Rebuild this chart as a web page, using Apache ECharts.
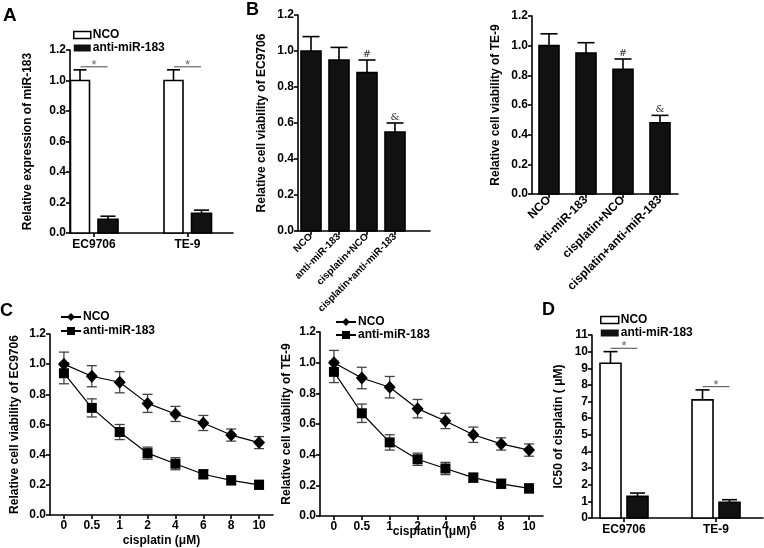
<!DOCTYPE html>
<html><head><meta charset="utf-8">
<script src="https://cdn.jsdelivr.net/npm/echarts@6/dist/echarts.min.js"></script>
<style>html,body{margin:0;padding:0;background:#fff}#c{width:764px;height:548px}</style>
</head><body><div id="c"></div>
<script>
// ---------- Panel A ----------
const groupsA = ['EC9706', 'TE-9'];
const ncoA = [1.00, 1.00];
const ncoAErr = [0.07, 0.07];
const antiA = [0.09, 0.13];
const antiAErr = [0.02, 0.02];
const sigA = [1.09, 1.09];
// ---------- Panel B ----------
const groupsB = ['NCO', 'anti-miR-183', 'cisplatin+NCO', 'cisplatin+anti-miR-183'];
const viabEC = [1.00, 0.95, 0.88, 0.55];
const viabECErr = [0.08, 0.07, 0.07, 0.05];
const viabTE = [1.00, 0.95, 0.84, 0.48];
const viabTEErr = [0.08, 0.07, 0.07, 0.05];
const marksB = ['', '', '#', '&'];
// ---------- Panel C ----------
const doses = ['0', '0.5', '1', '2', '4', '6', '8', '10'];
const ncoCEC = [1.00, 0.92, 0.88, 0.74, 0.67, 0.61, 0.53, 0.48];
const ncoCECErr = [0.08, 0.07, 0.07, 0.06, 0.05, 0.05, 0.04, 0.04];
const antiCEC = [0.94, 0.71, 0.55, 0.41, 0.34, 0.27, 0.23, 0.20];
const antiCECErr = [0.07, 0.06, 0.05, 0.04, 0.04, 0.03, 0.03, 0.03];
const ncoCTE = [1.00, 0.90, 0.84, 0.70, 0.62, 0.53, 0.47, 0.43];
const ncoCTEErr = [0.08, 0.07, 0.07, 0.06, 0.05, 0.05, 0.04, 0.04];
const antiCTE = [0.94, 0.67, 0.48, 0.37, 0.31, 0.25, 0.21, 0.18];
const antiCTEErr = [0.07, 0.06, 0.05, 0.04, 0.04, 0.03, 0.03, 0.03];
// ---------- Panel D ----------
const groupsD = ['EC9706', 'TE-9'];
const ncoD = [9.3, 7.1];
const ncoDErr = [0.7, 0.6];
const antiD = [1.3, 0.95];
const antiDErr = [0.2, 0.15];
const sigD = [10.2, 7.9];

const FONT = '"Liberation Sans", Arial, sans-serif';
const chart = echarts.init(document.getElementById('c'), null, {renderer: 'canvas'});

// geometry (pixels)
const G = {
  A:  {left: 70,  top: 50,  width: 163, height: 183, first: 24,  step: 93.5},
  B1: {left: 298, top: 15,  width: 132, height: 216, first: 13,  step: 28},
  B2: {left: 532, top: 16,  width: 146, height: 178, first: 17,  step: 37},
  C1: {left: 50,  top: 334, width: 223, height: 183},
  C2: {left: 320, top: 332, width: 223, height: 184},
  D:  {left: 592, top: 335, width: 171, height: 183, first: 32,  step: 92}
};
const keys = ['A', 'B1', 'B2', 'C1', 'C2', 'D'];
const grid = keys.map(k => ({left: G[k].left, top: G[k].top, width: G[k].width, height: G[k].height}));

const lineStyleAxis = {color: '#000', width: 1.6};
function yAx(gi, min, max, interval, name, gap, dec) {
  return {
    type: 'value', gridIndex: gi, min, max, interval,
    name, nameLocation: 'middle', nameGap: gap, nameRotate: 90, nameMoveOverlap: false,
    nameTextStyle: {fontFamily: FONT, fontWeight: 'bold', fontSize: 12, color: '#000'},
    axisLine: {show: true, onZero: false, lineStyle: lineStyleAxis},
    axisTick: {show: true, length: 4, lineStyle: lineStyleAxis},
    axisLabel: {fontFamily: FONT, fontWeight: 'bold', fontSize: 12, color: '#000', margin: 4,
      formatter: v => dec ? v.toFixed(1) : String(v)},
    splitLine: {show: false}
  };
}
function xValAx(gi, k, cats, rotate, fs) {
  const g = G[k];
  const min = -g.first / g.step, max = min + g.width / g.step;
  const vals = cats.map((c, i) => i);
  return {
    type: 'value', gridIndex: gi, min, max,
    axisLine: {show: true, onZero: false, lineStyle: lineStyleAxis},
    axisTick: {show: true, length: 4, customValues: vals, lineStyle: lineStyleAxis},
    axisLabel: {customValues: vals, fontFamily: FONT, fontWeight: 'bold', fontSize: fs, color: '#000',
      rotate: rotate, margin: rotate ? 4 : 6, formatter: v => cats[Math.round(v)]},
    splitLine: {show: false}
  };
}
function xCatAx(gi, gap) {
  return {
    type: 'category', gridIndex: gi, data: doses, boundaryGap: true,
    name: 'cisplatin (\u03bcM)', nameLocation: 'middle', nameGap: gap, nameMoveOverlap: false,
    nameTextStyle: {fontFamily: FONT, fontWeight: 'bold', fontSize: 12, color: '#000'},
    axisLine: {show: true, lineStyle: lineStyleAxis},
    axisTick: {show: true, alignWithLabel: true, length: 4, lineStyle: lineStyleAxis},
    axisLabel: {fontFamily: FONT, fontWeight: 'bold', fontSize: 12, color: '#000', margin: 5, interval: 0},
    splitLine: {show: false}
  };
}

const xAxis = [
  xValAx(0, 'A', groupsA, 0, 12),
  xValAx(1, 'B1', groupsB, 45, 10),
  xValAx(2, 'B2', groupsB, 45, 12),
  xCatAx(3, 20),
  xCatAx(4, 10),
  xValAx(5, 'D', groupsD, 0, 12)
];
const yAxis = [
  yAx(0, 0, 1.2, 0.2, 'Relative expression of miR-183', 36, true),
  yAx(1, 0, 1.2, 0.2, 'Relative cell viability of EC9706', 30, true),
  yAx(2, 0, 1.2, 0.2, 'Relative cell viability of TE-9', 30, true),
  yAx(3, 0, 1.2, 0.2, 'Relative cell viability of EC9706', 29, true),
  yAx(4, 0, 1.2, 0.2, 'Relative cell viability of TE-9', 27, true),
  yAx(5, 0, 11, 1, 'IC50 of cisplatin ( \u03bcM)', 27, false)
];

function barSeries(name, gi, vals, errs, offset, width, fill, cap) {
  return {
    type: 'custom', name, xAxisIndex: gi, yAxisIndex: gi, z: 3,
    itemStyle: {color: fill, borderColor: '#000'},
    data: vals.map((v, i) => [i, v, errs[i]]),
    encode: {x: 0, y: 1},
    renderItem: (params, api) => {
      const i = api.value(0), v = api.value(1), e = api.value(2);
      const base = api.coord([i, 0]), top = api.coord([i, v]), et = api.coord([i, v + e]);
      const cx = base[0] + offset;
      return {type: 'group', children: [
        {type: 'line', shape: {x1: cx, y1: top[1], x2: cx, y2: et[1]}, style: {stroke: '#000', lineWidth: 1.6}},
        {type: 'line', shape: {x1: cx - cap / 2, y1: et[1], x2: cx + cap / 2, y2: et[1]}, style: {stroke: '#000', lineWidth: 1.6}},
        {type: 'rect', shape: {x: cx - width / 2, y: top[1], width: width, height: base[1] - top[1]},
          style: {fill: fill, stroke: '#000', lineWidth: 1.6}}
      ]};
    }
  };
}
function sigSeries(gi, heights, halfLen) {
  return {
    type: 'custom', xAxisIndex: gi, yAxisIndex: gi, z: 4, silent: true,
    data: heights.map((h, i) => [i, h]),
    encode: {x: 0, y: 1},
    renderItem: (params, api) => {
      const p = api.coord([api.value(0), api.value(1)]);
      return {type: 'group', children: [
        {type: 'line', shape: {x1: p[0] - halfLen, y1: p[1], x2: p[0] + halfLen, y2: p[1]}, style: {stroke: '#666', lineWidth: 1.2}},
        {type: 'text', x: p[0], y: p[1] + 5, style: {text: '*', fill: '#666', font: '13px ' + FONT, textAlign: 'center', textVerticalAlign: 'bottom'}}
      ]};
    }
  };
}
function markSeries(gi, vals, errs) {
  return {
    type: 'custom', xAxisIndex: gi, yAxisIndex: gi, z: 4, silent: true,
    data: vals.map((v, i) => [i, v + errs[i]]),
    encode: {x: 0, y: 1},
    renderItem: (params, api) => {
      const p = api.coord([api.value(0), api.value(1)]);
      return {type: 'text', x: p[0], y: p[1] - 1, style: {text: marksB[params.dataIndex], fill: '#333', font: '10px "DejaVu Serif", serif', textAlign: 'center', textVerticalAlign: 'bottom'}};
    }
  };
}
function errSeries(gi, vals, errs) {
  return {
    type: 'custom', xAxisIndex: gi, yAxisIndex: gi, z: 1, silent: true,
    data: vals.map((v, i) => [i, v, errs[i]]),
    encode: {x: 0, y: 1},
    renderItem: (params, api) => {
      const i = api.value(0), v = api.value(1), e = api.value(2);
      const hi = api.coord([i, v + e]), lo = api.coord([i, v - e]);
      const cx = hi[0], c = 5;
      const st = {stroke: '#444', lineWidth: 1.3};
      return {type: 'group', children: [
        {type: 'line', shape: {x1: cx, y1: hi[1], x2: cx, y2: lo[1]}, style: st},
        {type: 'line', shape: {x1: cx - c, y1: hi[1], x2: cx + c, y2: hi[1]}, style: st},
        {type: 'line', shape: {x1: cx - c, y1: lo[1], x2: cx + c, y2: lo[1]}, style: st}
      ]};
    }
  };
}
function lineSeries(name, gi, vals, symbol, size) {
  return {
    type: 'line', name, xAxisIndex: gi, yAxisIndex: gi, z: 3,
    data: vals, symbol, symbolSize: size, showSymbol: true,
    itemStyle: {color: '#000'}, lineStyle: {color: '#000', width: 1.2}
  };
}

const series = [
  barSeries('NCO|A', 0, ncoA, ncoAErr, -14, 19, '#fff', 13),
  barSeries('anti-miR-183|A', 0, antiA, antiAErr, 14, 20, '#111', 15),
  sigSeries(0, sigA, 13.5),
  barSeries('B1', 1, viabEC, viabECErr, 0, 20, '#111', 17),
  markSeries(1, viabEC, viabECErr),
  barSeries('B2', 2, viabTE, viabTEErr, 0, 20, '#111', 17),
  markSeries(2, viabTE, viabTEErr),
  errSeries(3, ncoCEC, ncoCECErr),
  errSeries(3, antiCEC, antiCECErr),
  lineSeries('NCO|C1', 3, ncoCEC, 'diamond', [12, 13]),
  lineSeries('anti-miR-183|C1', 3, antiCEC, 'rect', 10),
  errSeries(4, ncoCTE, ncoCTEErr),
  errSeries(4, antiCTE, antiCTEErr),
  lineSeries('NCO|C2', 4, ncoCTE, 'diamond', [12, 13]),
  lineSeries('anti-miR-183|C2', 4, antiCTE, 'rect', 10),
  barSeries('NCO|D', 5, ncoD, ncoDErr, -13.5, 21, '#fff', 14),
  barSeries('anti-miR-183|D', 5, antiD, antiDErr, 13.5, 21, '#111', 15),
  sigSeries(5, sigD, 13.5)
];

function legText(lh) {
  return {fontFamily: FONT, fontWeight: 'bold', fontSize: 12, color: '#000', lineHeight: lh, padding: [0, 0, 0, -3]};
}
function barLegend(left, top, suffix, lh, w) {
  return {
    left, top, padding: 0, orient: 'vertical', itemWidth: w, itemHeight: 7, itemGap: 1, selectedMode: false,
    textStyle: legText(lh), formatter: n => n.split('|')[0],
    data: [
      {name: 'NCO|' + suffix, icon: 'rect', itemStyle: {color: '#fff', borderColor: '#000', borderWidth: 1.5}},
      {name: 'anti-miR-183|' + suffix, icon: 'rect', itemStyle: {color: '#111', borderColor: '#111', borderWidth: 0}}
    ]
  };
}
function lineLegend(left, top, suffix, lh, gap) {
  return {
    left, top, padding: 0, orient: 'vertical', itemWidth: 20, itemHeight: 10, itemGap: gap, selectedMode: false,
    textStyle: legText(lh), formatter: n => n.split('|')[0],
    data: ['NCO|' + suffix, 'anti-miR-183|' + suffix]
  };
}

const letter = (t, x, y, s) => ({type: 'text', left: x, top: y, style: {text: t, font: 'bold ' + s + 'px ' + FONT, fill: '#000'}});

chart.setOption({
  animation: false,
  backgroundColor: '#fff',
  grid, xAxis, yAxis, series,
  legend: [
    barLegend(73, 29, 'A', 10, 17),
    lineLegend(60, 311, 'C1', 12, 2),
    lineLegend(335, 316, 'C2', 10, 1),
    barLegend(600, 314, 'D', 9, 18)
  ],
  graphic: [
    letter('A', 3, 6, 19),
    letter('B', 246, 1, 18),
    letter('C', 0, 302, 18),
    letter('D', 542, 301, 18)
  ]
});
</script></body></html>
